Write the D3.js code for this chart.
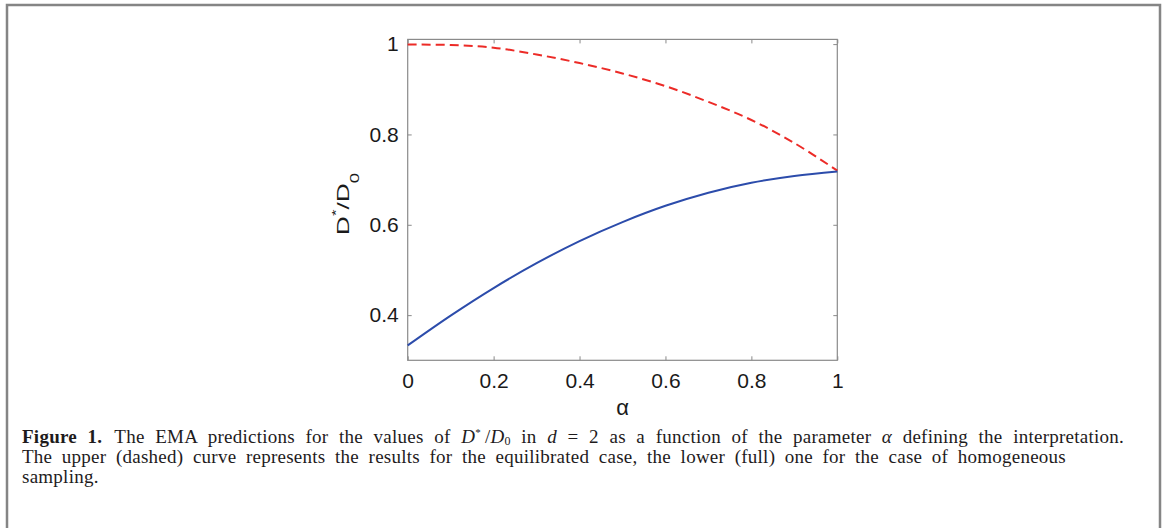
<!DOCTYPE html>
<html>
<head>
<meta charset="utf-8">
<script src="https://cdn.jsdelivr.net/npm/d3@7"></script>
<style>
  html, body { margin: 0; padding: 0; background: #fff; }
  svg { display: block; }
</style>
</head>
<body>
<svg></svg>
<script>
const w = 1165
const h = 528
const svg = d3.select("svg").attr("width", w).attr("height", h)

// data
const alpha = [0, 0.1, 0.2, 0.3, 0.4, 0.5, 0.6, 0.7, 0.8, 0.9, 1.0]
const equilibrated = [0.999, 0.998, 0.992, 0.977, 0.958, 0.935, 0.907, 0.872, 0.832, 0.781, 0.72]
const homogeneous = [0.333, 0.399, 0.460, 0.515, 0.564, 0.606, 0.642, 0.671, 0.693, 0.708, 0.718]
const xTicks = [0, 0.2, 0.4, 0.6, 0.8, 1]
const yTicks = [0.4, 0.6, 0.8, 1]

// plot box
const plotLeft = 407.7, plotRight = 837.3, plotTop = 39.4, plotBottom = 360.3
const x = d3.scaleLinear().domain([0, 1]).range([plotLeft, plotRight])
const y = d3.scaleLinear().domain([0.3, 1.0104]).range([plotBottom, plotTop])

const axisColor = "#8a8a8a"
const tickFont = "'Liberation Sans', Arial, sans-serif"

svg.append("rect").attr("width", w).attr("height", h).attr("fill", "#fff")

// outer frame of the figure
svg.append("path")
    .attr("d", `M7,${h + 5} V5 H1160 V${h + 5}`)
    .attr("fill", "none")
    .attr("stroke", "#858585")
    .attr("stroke-width", 2.5)

const plot = svg.append("g")

// axes (ticks inward, mirrored on top/right)
plot.append("g")
    .attr("transform", `translate(0,${plotBottom})`)
    .call(d3.axisBottom(x).tickValues(xTicks).tickSizeInner(-4).tickSizeOuter(0).tickPadding(13)
        .tickFormat(d => d3.format("")(d)))
plot.append("g")
    .attr("transform", `translate(0,${plotTop})`)
    .call(d3.axisTop(x).tickValues(xTicks).tickSizeInner(-4).tickSizeOuter(0).tickFormat(""))
plot.append("g")
    .attr("transform", `translate(${plotLeft},0)`)
    .call(d3.axisLeft(y).tickValues(yTicks).tickSizeInner(-4).tickSizeOuter(0).tickPadding(9)
        .tickFormat(d => d3.format("")(d)))
plot.append("g")
    .attr("transform", `translate(${plotRight},0)`)
    .call(d3.axisRight(y).tickValues(yTicks).tickSizeInner(-4).tickSizeOuter(0).tickFormat(""))

plot.selectAll(".domain").remove()
plot.selectAll(".tick line").attr("stroke", axisColor)
plot.selectAll(".tick text")
    .attr("font-family", tickFont)
    .attr("font-size", 21)
    .attr("fill", "#1a1a1a")

plot.append("rect")
    .attr("x", plotLeft).attr("y", plotTop)
    .attr("width", plotRight - plotLeft).attr("height", plotBottom - plotTop)
    .attr("fill", "none")
    .attr("stroke", axisColor)
    .attr("stroke-width", 1.2)

// curves
const line = d3.line().curve(d3.curveCatmullRom.alpha(0.5))

plot.append("path")
    .attr("d", line(alpha.map((a, i) => [x(a), y(equilibrated[i])])))
    .attr("fill", "none")
    .attr("stroke", "#ec2b27")
    .attr("stroke-width", 2)
    .attr("stroke-dasharray", "9,5")

plot.append("path")
    .attr("d", line(alpha.map((a, i) => [x(a), y(homogeneous[i])])))
    .attr("fill", "none")
    .attr("stroke", "#2c4cab")
    .attr("stroke-width", 2)

// axis labels
svg.append("text")
    .attr("x", (plotLeft + plotRight) / 2)
    .attr("y", 415)
    .attr("text-anchor", "middle")
    .attr("font-family", tickFont)
    .attr("font-size", 22)
    .attr("fill", "#1a1a1a")
    .text("α")

// y label: glyphs look stretched along the text direction in the original
const yl = svg.append("text")
    .attr("transform", `translate(349,204) rotate(-90) scale(1.55,1)`)
    .attr("text-anchor", "middle")
    .attr("font-family", tickFont)
    .attr("font-size", 17)
    .attr("fill", "#1a1a1a")
yl.append("tspan").text("D")
yl.append("tspan").attr("dy", -9).attr("font-size", 11).text("*")
yl.append("tspan").attr("dy", 9).text("/D")
yl.append("tspan").attr("dy", 10).attr("font-size", 12).text("0")

// caption
const capFont = "'Liberation Serif', 'Times New Roman', serif"
const cap = svg.append("g")
    .attr("font-family", capFont)
    .attr("font-size", 19)
    .attr("letter-spacing", 0.25)
    .attr("fill", "#1e1b1c")

const capX = 22
const line1 = cap.append("text").attr("x", capX).attr("y", 443)
line1.append("tspan").attr("font-weight", "bold").text("Figure 1.")
line1.append("tspan").attr("dx", 12).text("The EMA predictions for the values of ")
line1.append("tspan").attr("font-style", "italic").text("D")
line1.append("tspan").attr("dy", -7).attr("font-size", 11).text("*")
line1.append("tspan").attr("dy", 7).text("\u2009/")
line1.append("tspan").attr("font-style", "italic").text("D")
line1.append("tspan").attr("dy", 2).attr("font-size", 12).text("0")
line1.append("tspan").attr("dy", -2).text(" in ")
line1.append("tspan").attr("font-style", "italic").text("d")
line1.append("tspan").text(" = 2 as a function of the parameter ")
line1.append("tspan").attr("font-style", "italic").text("α")
line1.append("tspan").text(" defining the interpretation.")

const line2 = cap.append("text").attr("x", capX).attr("y", 463)
    .text("The upper (dashed) curve represents the results for the equilibrated case, the lower (full) one for the case of homogeneous")

cap.append("text").attr("x", capX).attr("y", 483).text("sampling.")

// adjust word spacing so the lines fill the same width as the original
const fitLine = (sel, target) => {
    const node = sel.node()
    const len = node.getComputedTextLength()
    const spaces = (node.textContent.match(/ /g) || []).length
    if (spaces > 0) sel.attr("word-spacing", (target - len) / spaces)
}
fitLine(line1, 1112 - capX)
fitLine(line2, 1066 - capX)
</script>
</body>
</html>
